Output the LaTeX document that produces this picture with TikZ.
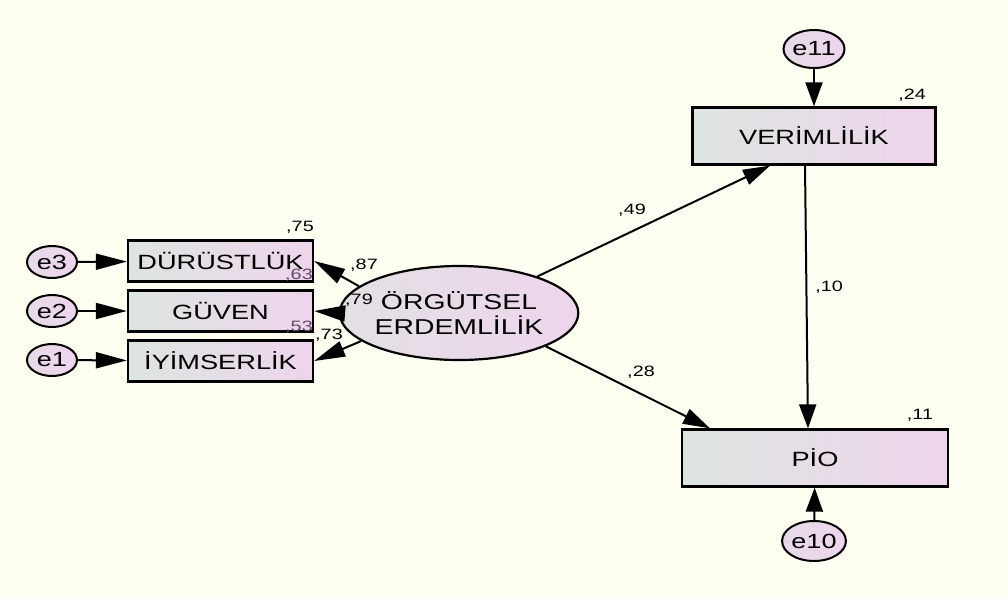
\documentclass[tikz,border=0pt]{standalone}
\usepackage{fontspec}
\setmainfont{Liberation Sans}[FakeStretch=1.32]
\usetikzlibrary{arrows.meta,shapes.geometric}
\definecolor{bgc}{RGB}{254,255,241}
\definecolor{lgray}{RGB}{221,229,224}
\definecolor{lpink}{RGB}{238,213,236}
\definecolor{epink}{RGB}{232,216,234}
\definecolor{dimlab}{RGB}{95,75,105}
\tikzset{
  obsbox/.style={draw=black, line width=2.3pt, rectangle, inner sep=0pt,
    left color=lgray, right color=lpink, font=\fontsize{20.6}{22}\selectfont},
  errnode/.style={draw=black, line width=2pt, ellipse, inner sep=0pt,
    left color=epink!80!lgray, right color=lpink, font=\fontsize{20.5}{22}\selectfont},
  latent/.style={draw=black, line width=2.2pt, ellipse, inner sep=0pt,
    left color=lgray!70!lpink, right color=lpink,
    font=\fontsize{21.5}{25}\selectfont, align=center},
  coef/.style={font=\fontsize{15}{16}\selectfont, inner sep=0pt},
  arrh/.style={line width=2pt, -{Triangle[length=31pt,width=16pt]}},
  arrd/.style={line width=2pt, -{Triangle[length=27pt,width=16pt]}},
  arrv/.style={line width=2pt, -{Triangle[length=24pt,width=17pt]}},
}
\begin{document}
\begin{tikzpicture}[x=1pt,y=-1pt]
  \fill[bgc] (0,0) rectangle (1008,598);
  \useasboundingbox (0,0) rectangle (1008,598);

  % indicator boxes and their error terms
  \node[obsbox, minimum width=185pt, minimum height=41pt] (b3) at (220.5,261) {DÜRÜSTLÜK};
  \node[obsbox, minimum width=185pt, minimum height=41pt] (b2) at (220.5,311) {GÜVEN};
  \node[obsbox, minimum width=185pt, minimum height=41pt] (b1) at (220.5,361) {İYİMSERLİK};
  \node[errnode, minimum width=50pt, minimum height=32pt] (e3) at (52,262) {e3};
  \node[errnode, minimum width=50pt, minimum height=32pt] (e2) at (52,311) {e2};
  \node[errnode, minimum width=50pt, minimum height=32pt] (e1) at (52,360) {e1};

  % latent factor
  \node[latent, minimum width=178pt, minimum height=94pt] (oe) at (459,313)
    {ÖRGÜTSEL\\ERDEMLİLİK};

  % outcome variables
  \node[obsbox, minimum width=243pt, minimum height=57pt] (ver) at (814,136) {VERİMLİLİK};
  \node[obsbox, minimum width=266pt, minimum height=57pt] (pio) at (815,458) {PİO};
  \node[errnode, minimum width=56pt, minimum height=38pt] (e11) at (814,49) {e11};
  \node[errnode, minimum width=56pt, minimum height=40pt] (e10) at (814,541) {e10};

  % paths
  \draw[arrh] (e3) -- (b3);
  \draw[arrh] (e2) -- (b2);
  \draw[arrh] (e1) -- (b1);
  \draw[arrh] (oe.165) -- (b3.east);
  \draw[arrh] (oe.west) -- (b2.east);
  \draw[arrh] (oe.196) -- (b1.east);
  \draw[arrd] (oe.25) -- ([xshift=-44pt]ver.south);
  \draw[arrd] (oe.-21) -- ([xshift=-105pt]pio.north);
  \draw[arrv] ([xshift=-9pt]ver.south) -- ([xshift=-7pt]pio.north);
  \draw[arrv] (e11) -- (ver);
  \draw[arrv] (e10) -- (pio);

  % estimates
  \node[coef] (r75) at (300,227) {,75};
  \node[coef, text=dimlab] (r63) at (299,275) {,63};
  \node[coef, text=dimlab] (r53) at (299,327) {,53};
  \node[coef] (l87) at (364,265) {,87};
  \node[coef] (l79) at (359,300) {,79};
  \node[coef] (l73) at (329,335) {,73};
  \node[coef] (l49) at (632,210) {,49};
  \node[coef] (l28) at (641,372) {,28};
  \node[coef] (l10) at (829,287) {,10};
  \node[coef] (r24) at (912,95) {,24};
  \node[coef] (r11) at (920,415) {,11};
\end{tikzpicture}
\end{document}
